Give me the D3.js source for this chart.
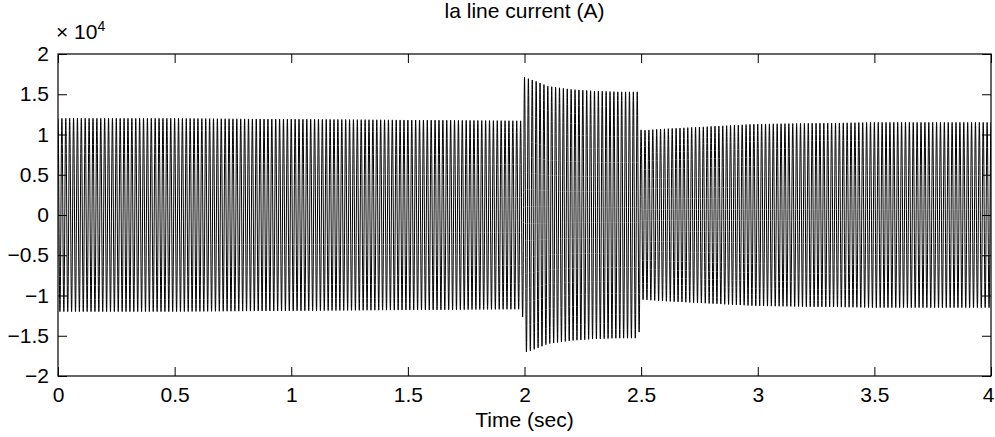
<!DOCTYPE html>
<html>
<head>
<meta charset="utf-8">
<script src="https://cdn.jsdelivr.net/npm/d3@7"></script>
<style>
  body { margin: 0; background: #fff; }
  svg text { font-family: "Liberation Sans", Arial, Helvetica, sans-serif; fill: #000; }
</style>
</head>
<body>
<svg id="chart"></svg>
<script>
// envelope of the phase-a current (peak value, x 10^4 A)
const envTime = [0, 0.5, 1.0, 1.5, 1.99, 2.0, 2.05, 2.1, 2.2, 2.3, 2.4, 2.49, 2.5, 2.6, 2.8, 3.0, 3.5, 4.0];
const envPeak = [1.20, 1.20, 1.19, 1.18, 1.17, 1.71, 1.66, 1.60, 1.56, 1.54, 1.53, 1.53, 1.05, 1.07, 1.10, 1.13, 1.15, 1.15];
const lineFreq = 60;          // Hz
const sampleStep = 1 / 3000;  // s

const xTicks = [0, 0.5, 1, 1.5, 2, 2.5, 3, 3.5, 4];
const yTicks = [-2, -1.5, -1, -0.5, 0, 0.5, 1, 1.5, 2];

const W = 995, H = 437;
const margin = { top: 54, right: 4, bottom: 61, left: 58 };
const width = W - margin.left - margin.right;
const height = H - margin.top - margin.bottom;
const fontSize = 21;

const svg = d3.select("#chart").attr("width", W).attr("height", H);
const g = svg.append("g").attr("transform", `translate(${margin.left},${margin.top})`);

const x = d3.scaleLinear().domain([0, 4]).range([0, width]);
const y = d3.scaleLinear().domain([-2, 2]).range([height, 0]);
const env = d3.scaleLinear().domain(envTime).range(envPeak);

// sampled waveform
const samples = d3.range(0, 4 + sampleStep / 2, sampleStep).map(t => [t, env(t) * Math.cos(2 * Math.PI * lineFreq * t)]);

g.append("clipPath").attr("id", "clip")
  .append("rect").attr("width", width).attr("height", height);

g.append("path")
  .datum(samples)
  .attr("clip-path", "url(#clip)")
  .attr("fill", "none")
  .attr("stroke", "#000")
  .attr("stroke-width", 1)
  .attr("d", d3.line().x(d => x(d[0])).y(d => y(d[1])));

const fmt = v => (v < 0 ? "\u2212" : "") + Math.abs(v);

// axes with inward ticks (MATLAB style)
const axBottom = g.append("g").attr("transform", `translate(0,${height})`)
  .call(d3.axisBottom(x).tickValues(xTicks).tickFormat(fmt).tickSizeInner(-9).tickSizeOuter(0).tickPadding(11));
const axLeft = g.append("g")
  .call(d3.axisLeft(y).tickValues(yTicks).tickFormat(fmt).tickSizeInner(-9).tickSizeOuter(0).tickPadding(9));
const axTop = g.append("g")
  .call(d3.axisTop(x).tickValues(xTicks).tickFormat("").tickSizeInner(-9).tickSizeOuter(0));
const axRight = g.append("g").attr("transform", `translate(${width},0)`)
  .call(d3.axisRight(y).tickValues(yTicks).tickFormat("").tickSizeInner(-9).tickSizeOuter(0));

[axBottom, axLeft, axTop, axRight].forEach(a => {
  a.select(".domain").remove();
  a.selectAll("line").attr("stroke", "#000");
  a.selectAll("text").attr("font-size", fontSize).attr("font-family", "Liberation Sans, Arial, sans-serif");
});

// keep the last x label inside the window
axBottom.selectAll(".tick text").filter(d => d === 4).attr("dx", -3);

g.append("rect")
  .attr("width", width).attr("height", height)
  .attr("fill", "none").attr("stroke", "#000").attr("stroke-width", 1.2);

// exponent label
const ex = svg.append("text").attr("x", 56).attr("y", 39).attr("font-size", fontSize);
ex.append("tspan").text("\u00d7 10");
ex.append("tspan").attr("font-size", 14).attr("dy", -8).text("4");

svg.append("text")
  .attr("x", margin.left + width / 2).attr("y", 18)
  .attr("text-anchor", "middle").attr("font-size", fontSize)
  .text("la line current (A)");

svg.append("text")
  .attr("x", margin.left + width / 2).attr("y", 427)
  .attr("text-anchor", "middle").attr("font-size", fontSize)
  .text("Time (sec)");
</script>
</body>
</html>
